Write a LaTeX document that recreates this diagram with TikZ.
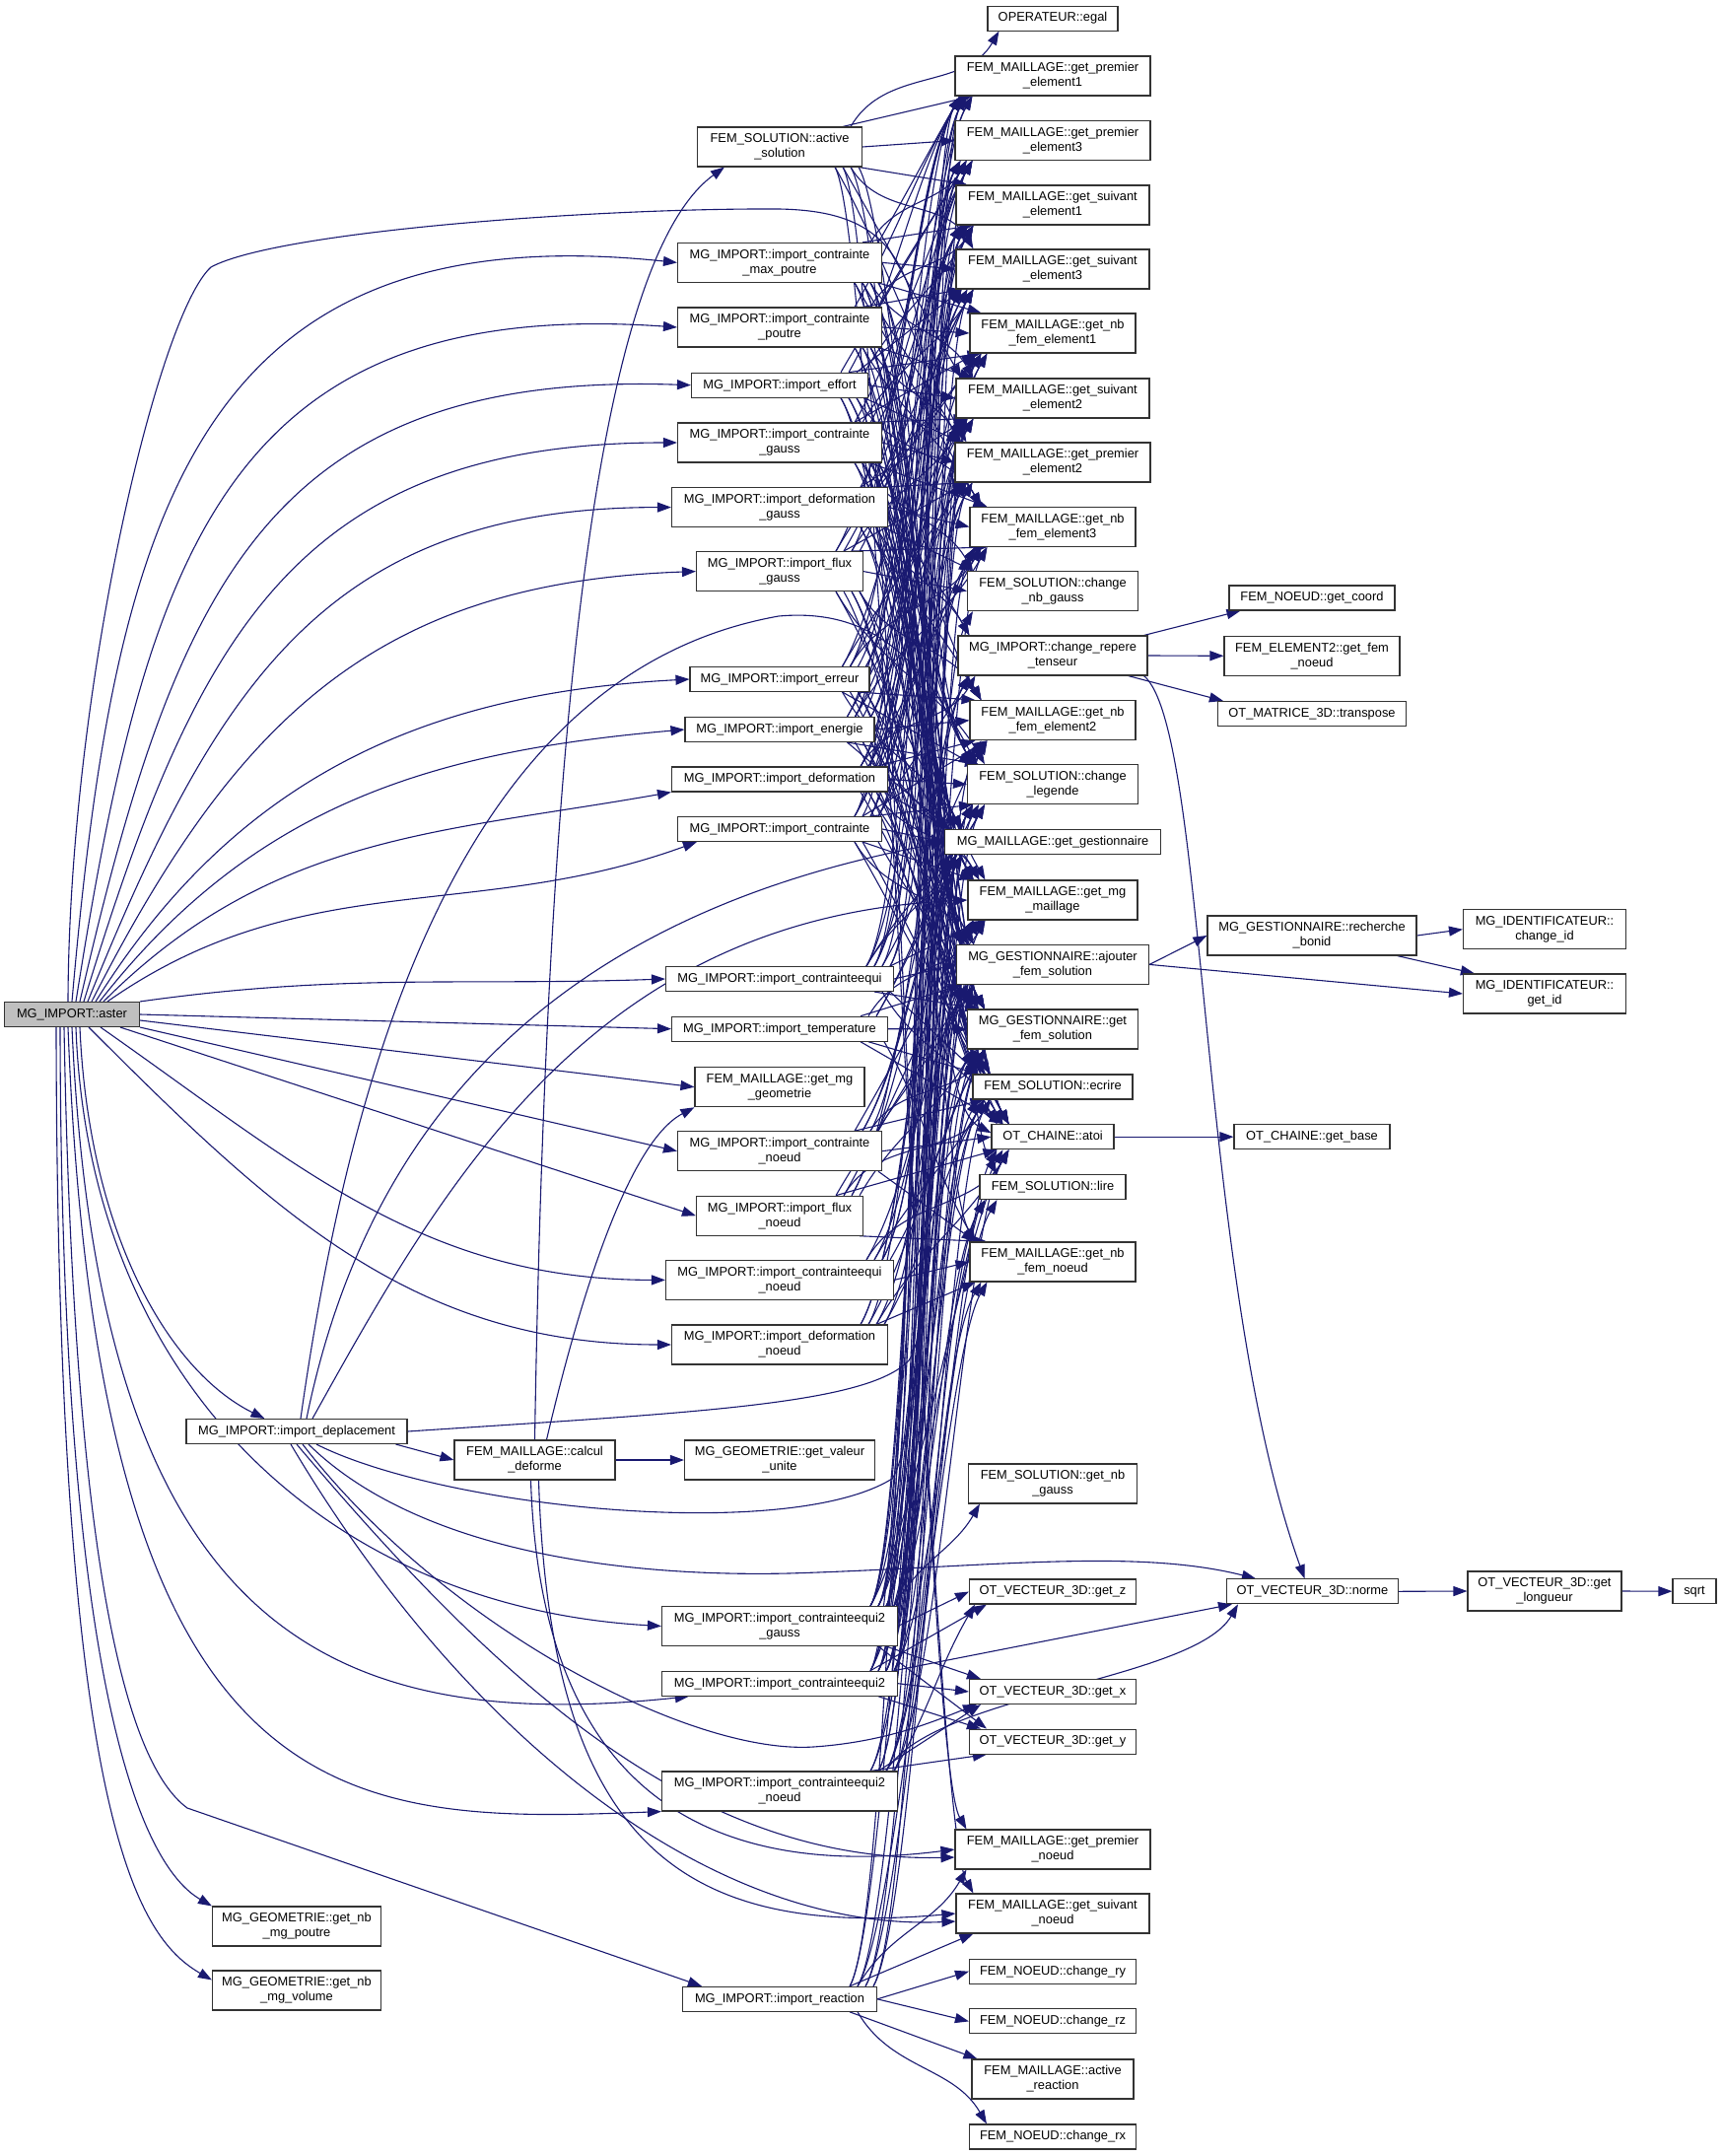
\documentclass[tikz,border=0pt]{standalone}
\usepackage{fontspec}
\setmainfont{Liberation Sans}
\usetikzlibrary{arrows.meta}
\definecolor{mblue}{HTML}{191970}
\definecolor{bord}{HTML}{333333}
\definecolor{graybox}{HTML}{BFBFBF}
\newcounter{ec}
\pgfdeclarelayer{bg}
\pgfsetlayers{bg,main}
\tikzset{
  box/.style={draw=bord, line width=0.55pt, fill=white, inner sep=0pt, align=center, font=\fontsize{6.43}{7.5}\selectfont},
  wh/.style 2 args={minimum width=#1*0.5pt, minimum height=#2*0.5pt},
  edge/.style={draw=mblue, line width=0.55pt, -{Triangle[length=7pt,width=5pt]}},
}
\newcommand\E[2]{%
  \stepcounter{ec}%
  \path (#1.center);\pgfgetlastxy{\Sx}{\Sy}%
  \path (#2.center);\pgfgetlastxy{\Tx}{\Ty}%
  \pgfmathsetmacro\Dd{\Ty-\Sy}%
  \pgfmathsetlengthmacro\So{mod(\arabic{ec},4)*4pt+2pt}%
  \pgfmathsetlengthmacro\Eo{mod(\arabic{ec},3)*3pt+3pt}%
  \ifdim\Dd pt>20pt\relax
    \ifdim\Dd pt>60pt\relax
      \draw[edge] ([xshift=-\So]#1.north east) to[out=60,in=240,max distance=45pt] ([xshift=\Eo]#2.south west);%
    \else
      \draw[edge] ([xshift=-\So]#1.north east) -- ([xshift=\Eo]#2.south west);%
    \fi
  \else
    \ifdim\Dd pt<-20pt\relax
      \ifdim\Dd pt<-60pt\relax
        \draw[edge] ([xshift=-\So]#1.south east) to[out=-60,in=120,max distance=45pt] ([xshift=\Eo]#2.north west);%
      \else
        \draw[edge] ([xshift=-\So]#1.south east) -- ([xshift=\Eo]#2.north west);%
      \fi
    \else
      \draw[edge] (#1.east) -- (#2.west);%
    \fi
  \fi}
\newcommand\EL[2]{\foreach \t in {#2}{\E{#1}{\t}}}
\begin{document}
\begin{tikzpicture}[x=0.5pt,y=-0.5pt]
\useasboundingbox (0,0) rectangle (1747,2187);
% ---------- nodes ----------
\node[box,wh={137}{25},fill=graybox] (aster) at (73,1029) {MG\_IMPORT::aster};
\node[box,wh={132}{25}] (egal) at (1068,18.6) {OPERATEUR::egal};
\node[box,wh={198}{40}] (gpe1) at (1068,77) {FEM\_MAILLAGE::get\_premier\\\_element1};
\node[box,wh={167}{40}] (asol) at (791,149) {FEM\_SOLUTION::active\\\_solution};
\node[box,wh={198}{40}] (gpe3) at (1068,142.5) {FEM\_MAILLAGE::get\_premier\\\_element3};
\node[box,wh={196}{40}] (gse1) at (1068,208) {FEM\_MAILLAGE::get\_suivant\\\_element1};
\node[box,wh={207}{40}] (icmp) at (791,266.4) {MG\_IMPORT::import\_contrainte\\\_max\_poutre};
\node[box,wh={196}{40}] (gse3) at (1068,273) {FEM\_MAILLAGE::get\_suivant\\\_element3};
\node[box,wh={207}{40}] (icp) at (791,332) {MG\_IMPORT::import\_contrainte\\\_poutre};
\node[box,wh={168}{40}] (gnfe1) at (1068,338) {FEM\_MAILLAGE::get\_nb\\\_fem\_element1};
\node[box,wh={179}{25}] (ieff) at (791,390.7) {MG\_IMPORT::import\_effort};
\node[box,wh={196}{40}] (gse2) at (1068,404) {FEM\_MAILLAGE::get\_suivant\\\_element2};
\node[box,wh={207}{40}] (icg) at (791,449) {MG\_IMPORT::import\_contrainte\\\_gauss};
\node[box,wh={198}{40}] (gpe2) at (1068,469) {FEM\_MAILLAGE::get\_premier\\\_element2};
\node[box,wh={219}{40}] (idg) at (791,514.6) {MG\_IMPORT::import\_deformation\\\_gauss};
\node[box,wh={168}{40}] (gnfe3) at (1068,534.5) {FEM\_MAILLAGE::get\_nb\\\_fem\_element3};
\node[box,wh={169}{40}] (ifg) at (791,579.6) {MG\_IMPORT::import\_flux\\\_gauss};
\node[box,wh={173}{40}] (cnbg) at (1068,599.6) {FEM\_SOLUTION::change\\\_nb\_gauss};
\node[box,wh={168}{25}] (getcoord) at (1331,606.5) {FEM\_NOEUD::get\_coord};
\node[box,wh={192}{40}] (crt) at (1068,665) {MG\_IMPORT::change\_repere\\\_tenseur};
\node[box,wh={178}{40}] (getfemnoeud) at (1331,665.3) {FEM\_ELEMENT2::get\_fem\\\_noeud};
\node[box,wh={182}{25}] (ierr) at (791,689) {MG\_IMPORT::import\_erreur};
\node[box,wh={191}{25}] (transpose) at (1331,724) {OT\_MATRICE\_3D::transpose};
\node[box,wh={168}{40}] (gnfe2) at (1068,730.7) {FEM\_MAILLAGE::get\_nb\\\_fem\_element2};
\node[box,wh={192}{25}] (iene) at (791,740) {MG\_IMPORT::import\_energie};
\node[box,wh={219}{25}] (idef) at (791,790.5) {MG\_IMPORT::import\_deformation};
\node[box,wh={173}{40}] (cleg) at (1068,795.7) {FEM\_SOLUTION::change\\\_legende};
\node[box,wh={207}{25}] (ic) at (791,841) {MG\_IMPORT::import\_contrainte};
\node[box,wh={219}{25}] (ggest) at (1068,854.4) {MG\_MAILLAGE::get\_gestionnaire};
\node[box,wh={172}{40}] (gmgm) at (1068,913) {FEM\_MAILLAGE::get\_mg\\\_maillage};
\node[box,wh={212}{40}] (rbonid) at (1331,949) {MG\_GESTIONNAIRE::recherche\\\_bonid};
\node[box,wh={165}{40}] (changeid) at (1567,942.7) {MG\_IDENTIFICATEUR::\\change\_id};
\node[box,wh={195}{40}] (afs) at (1068,978.4) {MG\_GESTIONNAIRE::ajouter\\\_fem\_solution};
\node[box,wh={231}{25}] (iceq) at (791,993) {MG\_IMPORT::import\_contrainteequi};
\node[box,wh={165}{40}] (getid) at (1567,1008) {MG\_IDENTIFICATEUR::\\get\_id};
\node[box,wh={219}{25}] (itemp) at (791,1043.7) {MG\_IMPORT::import\_temperature};
\node[box,wh={173}{40}] (gfs) at (1068,1044) {MG\_GESTIONNAIRE::get\\\_fem\_solution};
\node[box,wh={172}{40}] (gmgg) at (791,1102.7) {FEM\_MAILLAGE::get\_mg\\\_geometrie};
\node[box,wh={162}{25}] (ecrire) at (1068,1102.5) {FEM\_SOLUTION::ecrire};
\node[box,wh={124}{25}] (atoi) at (1068,1153.2) {OT\_CHAINE::atoi};
\node[box,wh={158}{25}] (getbase) at (1331,1153.2) {OT\_CHAINE::get\_base};
\node[box,wh={207}{40}] (icn) at (791,1167.7) {MG\_IMPORT::import\_contrainte\\\_noeud};
\node[box,wh={148}{25}] (lire) at (1068,1204) {FEM\_SOLUTION::lire};
\node[box,wh={169}{40}] (ifn) at (791,1233.2) {MG\_IMPORT::import\_flux\\\_noeud};
\node[box,wh={168}{40}] (gnfn) at (1068,1280) {FEM\_MAILLAGE::get\_nb\\\_fem\_noeud};
\node[box,wh={231}{40}] (iceqn) at (791,1298.4) {MG\_IMPORT::import\_contrainteequi\\\_noeud};
\node[box,wh={219}{40}] (idn) at (791,1364) {MG\_IMPORT::import\_deformation\\\_noeud};
\node[box,wh={224}{25}] (idepl) at (301,1452) {MG\_IMPORT::import\_deplacement};
\node[box,wh={163}{40}] (cd) at (542.5,1481) {FEM\_MAILLAGE::calcul\\\_deforme};
\node[box,wh={193}{40}] (gvu) at (791,1481) {MG\_GEOMETRIE::get\_valeur\\\_unite};
\node[box,wh={171}{40}] (gnbg) at (1068,1505) {FEM\_SOLUTION::get\_nb\\\_gauss};
\node[box,wh={169}{25}] (getz) at (1068,1614.5) {OT\_VECTEUR\_3D::get\_z};
\node[box,wh={174}{25}] (norme) at (1331.5,1614.3) {OT\_VECTEUR\_3D::norme};
\node[box,wh={156}{40}] (glong) at (1567,1614) {OT\_VECTEUR\_3D::get\\\_longueur};
\node[box,wh={44}{25}] (sqrt) at (1719,1614.2) {sqrt};
\node[box,wh={239}{40}] (iceq2g) at (791,1649.5) {MG\_IMPORT::import\_contrainteequi2\\\_gauss};
\node[box,wh={239}{25}] (iceq2) at (791,1707.7) {MG\_IMPORT::import\_contrainteequi2};
\node[box,wh={169}{25}] (getx) at (1068,1716) {OT\_VECTEUR\_3D::get\_x};
\node[box,wh={169}{25}] (gety) at (1068,1766.6) {OT\_VECTEUR\_3D::get\_y};
\node[box,wh={239}{40}] (iceq2n) at (791,1817) {MG\_IMPORT::import\_contrainteequi2\\\_noeud};
\node[box,wh={198}{40}] (gpn) at (1068,1876) {FEM\_MAILLAGE::get\_premier\\\_noeud};
\node[box,wh={171}{40}] (gnmp) at (301,1954) {MG\_GEOMETRIE::get\_nb\\\_mg\_poutre};
\node[box,wh={196}{40}] (gsn) at (1068,1941) {FEM\_MAILLAGE::get\_suivant\\\_noeud};
\node[box,wh={169}{25}] (cry) at (1068,1999.7) {FEM\_NOEUD::change\_ry};
\node[box,wh={171}{40}] (gnmv) at (301,2019) {MG\_GEOMETRIE::get\_nb\\\_mg\_volume};
\node[box,wh={197}{25}] (irea) at (791,2027.8) {MG\_IMPORT::import\_reaction};
\node[box,wh={169}{25}] (crz) at (1068,2050.4) {FEM\_NOEUD::change\_rz};
\node[box,wh={164}{40}] (area) at (1068,2109) {FEM\_MAILLAGE::active\\\_reaction};
\node[box,wh={169}{25}] (crx) at (1068,2167.5) {FEM\_NOEUD::change\_rx};
% ---------- edges ----------
\begin{pgfonlayer}{bg}
% aster fan (upwards)
\draw[edge] ([xshift=-2pt]aster.north) .. controls (70,700) and (160,320) .. (214,271) .. controls (280,235) and (600,211) .. (790,212) .. controls (900,214) and (935,260) .. (940,420) .. controls (946,900) and (950,1120) .. ([yshift=2pt]atoi.west);
\draw[edge] ([xshift=0pt]aster.north) to[out=85,in=174,looseness=1.3] (icmp.west);
\draw[edge] ([xshift=2pt]aster.north) to[out=81,in=176,looseness=1.28] (icp.west);
\draw[edge] ([xshift=4pt]aster.north) to[out=77,in=178,looseness=1.25] (ieff.west);
\draw[edge] ([xshift=6pt]aster.north) to[out=73,in=180,looseness=1.2] (icg.west);
\draw[edge] ([xshift=8pt]aster.north) to[out=68,in=180,looseness=1.15] (idg.west);
\draw[edge] ([xshift=10pt]aster.north) to[out=63,in=182,looseness=1.1] (ifg.west);
\draw[edge] ([xshift=12pt]aster.north) to[out=58,in=183] (ierr.west);
\draw[edge] ([xshift=14pt]aster.north) to[out=52,in=185] (iene.west);
\draw[edge] ([xshift=16pt]aster.north) to[out=45,in=190] (idef.south west);
\draw[edge] ([xshift=18pt]aster.north) to[out=35,in=200] ([xshift=10pt]ic.south west);
% aster fan (level)
\draw[edge] (aster.north east) to[out=8,in=182] (iceq.west);
\draw[edge] (aster.east) -- (itemp.west);
\draw[edge] ([yshift=-3pt]aster.east) -- (gmgg.west);
\draw[edge] (aster.south east) -- (icn.west);
\draw[edge] ([xshift=-10pt]aster.south east) -- (ifn.west);
\draw[edge] ([xshift=-20pt]aster.south east) to[out=-35,in=180] (iceqn.west);
\draw[edge] ([xshift=-26pt]aster.south east) to[out=-45,in=180] (idn.west);
% aster fan (downwards)
\draw[edge] ([xshift=4pt]aster.south) .. controls (90,1250) and (170,1390) .. ([xshift=40pt]idepl.north west);
\draw[edge] ([xshift=2pt]aster.south) .. controls (90,1400) and (330,1630) .. (iceq2g.west);
\draw[edge] ([xshift=0pt]aster.south) .. controls (100,1650) and (330,1760) .. ([xshift=14pt]iceq2.south west);
\draw[edge] ([xshift=-2pt]aster.south) .. controls (100,1850) and (350,1850) .. (iceq2n.south west);
\draw[edge] ([xshift=-4pt]aster.south) .. controls (75,1600) and (130,1790) .. (190,1834) -- ([xshift=10pt]irea.north west);
\draw[edge] ([xshift=-6pt]aster.south) .. controls (62,1700) and (140,1890) .. (gnmp.north west);
\draw[edge] ([xshift=-8pt]aster.south) .. controls (58,1850) and (140,1965) .. ([yshift=-5pt]gnmv.north west);
% import_deplacement
\draw[edge] ([xshift=-6pt]idepl.south east) -- (cd.west);
\draw[edge] (idepl.east) .. controls (700,1433) and (880,1425) .. (922,1380) .. controls (950,1340) and (955,1050) .. ([xshift=5pt]afs.south west);
\draw[edge] ([xshift=2pt]idepl.north) .. controls (360,1050) and (480,680) .. (790,625) .. controls (900,615) and (945,690) .. ([xshift=5pt]cleg.north west);
\draw[edge] ([xshift=5pt]idepl.north) .. controls (370,1150) and (550,930) .. (ggest.west);
\draw[edge] ([xshift=8pt]idepl.north) .. controls (450,1200) and (600,930) .. (gmgm.west);
\draw[edge] ([xshift=10pt]idepl.south) .. controls (450,1530) and (800,1565) .. (905,1500) .. controls (935,1460) and (945,1120) .. ([xshift=5pt]gfs.south west);
\draw[edge] ([xshift=6pt]idepl.south) .. controls (420,1570) and (620,1600) .. (800,1596) .. controls (1000,1590) and (1150,1570) .. ([xshift=15pt]norme.north west);
\draw[edge] ([xshift=3pt]idepl.south) .. controls (450,1650) and (700,1780) .. (825,1772) .. controls (900,1767) and (950,1745) .. ([xshift=4pt]getx.south west);
\draw[edge] (idepl.south) .. controls (500,1700) and (700,1890) .. ([yshift=-4pt]gpn.west);
\draw[edge] ([xshift=-3pt]idepl.south) .. controls (470,1760) and (720,1960) .. ([yshift=-4pt]gsn.west);
% calcul_deforme
\draw[edge] (cd.north) .. controls (555,700) and (610,260) .. ([xshift=14pt]asol.south west);
\draw[edge] ([xshift=6pt]cd.north) .. controls (585,1330) and (635,1160) .. (gmgg.south west);
\draw[edge] (cd.east) -- (gvu.west);
\draw[edge] ([xshift=-2pt]cd.south) .. controls (548,1800) and (700,1910) .. (gpn.west);
\draw[edge] ([xshift=2pt]cd.south) .. controls (558,1880) and (700,1965) .. (gsn.west);
% change_repere_tenseur -> norme
\draw[edge] ([xshift=-2pt]crt.south east) .. controls (1225,740) and (1215,1300) .. ([xshift=-4pt]norme.north);
% generic call edges
\EL{asol}{egal,gpe1,gpe3,gse1,gse3,gse2,gpe2,lire,gnfn,gpn,gsn}
\foreach \s in {icmp,icp,ieff}{\EL{\s}{gpe1,gpe3,gse1,gse3,gnfe1,gse2,gpe2,gnfe3,ggest,gmgm,afs,gfs,cleg,ecrire,atoi}}
\foreach \s in {icg,idg}{\EL{\s}{gpe1,gpe2,gpe3,gse1,gse2,gse3,gnfe1,gnfe2,gnfe3,cnbg,crt,ggest,gmgm,afs,gfs,cleg,ecrire,atoi}}
\EL{ifg}{gpe1,gpe2,gpe3,gse1,gse2,gse3,gnfe1,gnfe2,gnfe3,cnbg,ggest,gmgm,afs,gfs,cleg,ecrire,atoi}
\foreach \s in {ierr,iene,iceq}{\EL{\s}{gpe1,gpe2,gpe3,gse1,gse2,gse3,gnfe1,gnfe2,gnfe3,ggest,gmgm,afs,gfs,cleg,ecrire,atoi}}
\foreach \s in {idef,ic}{\EL{\s}{gpe1,gpe2,gpe3,gse1,gse2,gse3,gnfe1,gnfe2,gnfe3,crt,ggest,gmgm,afs,gfs,cleg,ecrire,atoi}}
\foreach \s in {itemp,ifn,iceqn}{\EL{\s}{gnfn,ggest,gmgm,afs,gfs,cleg,ecrire,atoi}}
\foreach \s in {icn,idn}{\EL{\s}{gnfn,crt,ggest,gmgm,afs,gfs,cleg,ecrire,atoi}}
\EL{iceq2g}{gpe1,gpe2,gpe3,gse1,gse2,gse3,gnfe1,gnfe2,gnfe3,cnbg,gnbg,ggest,gmgm,afs,gfs,cleg,ecrire,atoi,lire,getx,gety,getz}
\EL{iceq2}{gpe1,gpe2,gpe3,gse1,gse2,gse3,gnfe1,gnfe2,gnfe3,ggest,gmgm,afs,gfs,cleg,ecrire,atoi,lire,getx,gety,getz,norme}
\EL{iceq2n}{gnfn,ggest,gmgm,afs,gfs,cleg,ecrire,atoi,lire,getx,gety,getz,norme}
\EL{irea}{gnfn,ggest,gmgm,afs,gfs,cleg,ecrire,atoi,gpn,gsn,cry,crz,crx,area}
\EL{crt}{getcoord,getfemnoeud,transpose}
\EL{afs}{rbonid,getid}
\EL{rbonid}{changeid,getid}
\EL{atoi}{getbase}
\EL{norme}{glong}
\EL{glong}{sqrt}
\end{pgfonlayer}
\end{tikzpicture}
\end{document}
